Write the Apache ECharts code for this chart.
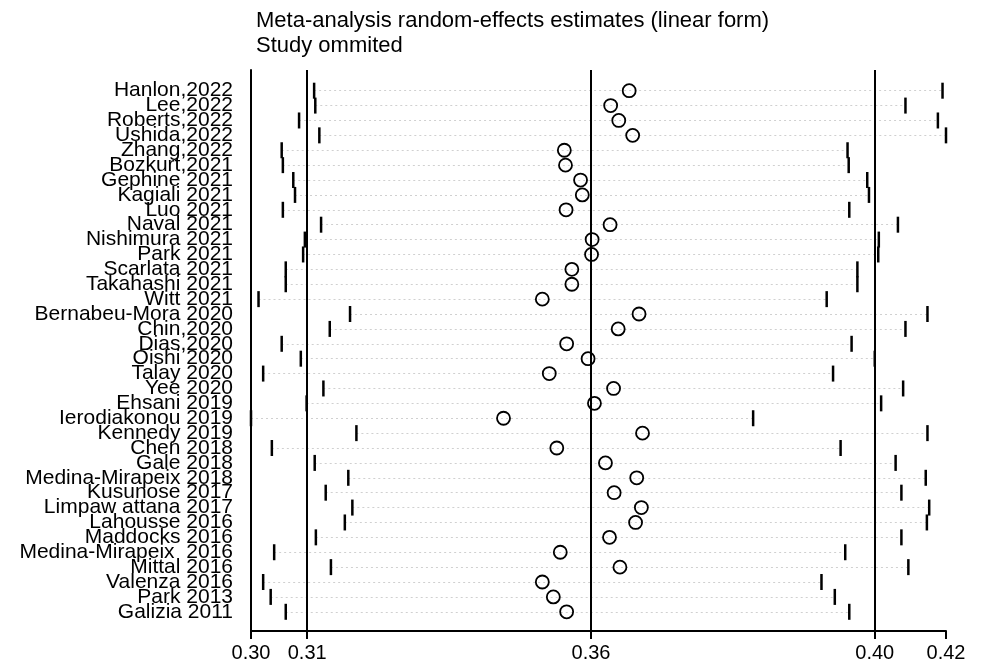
<!DOCTYPE html>
<html>
<head>
<meta charset="utf-8">
<script src="https://cdn.jsdelivr.net/npm/echarts@6/dist/echarts.min.js"></script>
<style>
html,body{margin:0;padding:0;background:#fff}
#main{width:988px;height:670px}
</style>
</head>
<body>
<div id="main"></div>
<script>
// 每行去掉一项研究后的合并估计
var studies = ['Hanlon,2022', 'Lee,2022', 'Roberts,2022', 'Ushida,2022', 'Zhang,2022', 'Bozkurt,2021',
    'Gephine 2021', 'Kagiali 2021', 'Luo 2021', 'Naval 2021', 'Nishimura 2021', 'Park 2021',
    'Scarlata 2021', 'Takahashi 2021', 'Witt 2021', 'Bernabeu-Mora 2020', 'Chin,2020', 'Dias,2020',
    'Oishi 2020', 'Talay 2020', 'Yee 2020', 'Ehsani 2019', 'Ierodiakonou 2019', 'Kennedy 2019',
    'Chen 2018', 'Gale 2018', 'Medina-Mirapeix 2018', 'Kusunose 2017', 'Limpaw attana 2017', 'Lahousse 2016',
    'Maddocks 2016', 'Medina-Mirapeix  2016', 'Mittal 2016', 'Valenza 2016', 'Park 2013', 'Galizia 2011']

var lowerCI = [0.3109, 0.3111, 0.3083, 0.3118, 0.3053, 0.3055,
    0.3073, 0.3076, 0.3055, 0.3121, 0.3093, 0.3090,
    0.3060, 0.3060, 0.3013, 0.3171, 0.3136, 0.3053,
    0.3086, 0.3021, 0.3125, 0.3096, 0.3000, 0.3182,
    0.3036, 0.3110, 0.3168, 0.3129, 0.3175, 0.3162,
    0.3112, 0.3040, 0.3138, 0.3021, 0.3034, 0.3060]

var estimate = [0.3653, 0.3621, 0.3635, 0.3659, 0.3541, 0.3543,
    0.3569, 0.3572, 0.3544, 0.3620, 0.3589, 0.3588,
    0.3554, 0.3554, 0.3503, 0.3670, 0.3634, 0.3545,
    0.3582, 0.3515, 0.3626, 0.3593, 0.3436, 0.3676,
    0.3528, 0.3612, 0.3666, 0.3627, 0.3674, 0.3664,
    0.3619, 0.3534, 0.3637, 0.3503, 0.3522, 0.3545]

var upperCI = [0.4194, 0.4130, 0.4186, 0.4200, 0.4030, 0.4032,
    0.4064, 0.4067, 0.4033, 0.4117, 0.4084, 0.4083,
    0.4047, 0.4047, 0.3994, 0.4168, 0.4130, 0.4037,
    0.4077, 0.4005, 0.4126, 0.4088, 0.3867, 0.4168,
    0.4018, 0.4113, 0.4165, 0.4123, 0.4171, 0.4167,
    0.4123, 0.4026, 0.4135, 0.3985, 0.4008, 0.4033]

// 总体估计及可信区间 (竖线)
var overall = [0.3097, 0.3587, 0.4077]

// x轴刻度
var tickValues = [0.30, 0.3097, 0.3587, 0.4077, 0.42]
var tickLabels = ['0.30', '0.31', '0.36', '0.40', '0.42']

var xMin = 0.30, xMax = 0.42
var yMin = -0.39, yMax = 37.29
var font = "'Liberation Sans', Arial, sans-serif"

var chart = echarts.init(document.getElementById('main'))
chart.setOption({
    animation: false,
    backgroundColor: '#fff',
    title: {
        text: 'Meta-analysis random-effects estimates (linear form)\nStudy ommited',
        left: 256,
        top: 8,
        padding: 0,
        textStyle: {fontFamily: font, fontSize: 22, fontWeight: 'normal', color: '#000', lineHeight: 25}
    },
    grid: {left: 251, right: 42, top: 70, bottom: 39},
    xAxis: {
        type: 'value',
        min: xMin,
        max: xMax,
        axisLine: {onZero: false, lineStyle: {color: '#000', width: 2}},
        axisTick: {customValues: tickValues, length: 8, lineStyle: {color: '#000', width: 2}},
        axisLabel: {
            customValues: tickValues,
            margin: 12,
            fontFamily: font,
            fontSize: 20,
            color: '#000',
            showMinLabel: true,
            showMaxLabel: true,
            formatter: function (v) {
                for (var k = 0; k < tickValues.length; k++) {
                    if (Math.abs(tickValues[k] - v) < 1e-6) return tickLabels[k]
                }
                return ''
            }
        },
        splitLine: {show: false}
    },
    yAxis: {
        type: 'value',
        inverse: true,
        min: yMin,
        max: yMax,
        axisLine: {show: true, onZero: false, lineStyle: {color: '#000', width: 2}},
        axisTick: {show: false},
        axisLabel: {show: false},
        splitLine: {show: false}
    },
    series: [
        {
            // 研究名称 (挂在左侧轴上)
            type: 'scatter',
            symbolSize: 0,
            clip: false,
            silent: true,
            itemStyle: {opacity: 1},
            label: {
                show: true,
                position: 'left',
                distance: 18,
                fontFamily: font,
                fontSize: 21,
                color: '#000',
                opacity: 1,
                formatter: function (p) { return studies[p.dataIndex] }
            },
            data: studies.map(function (s, i) { return [xMin, i + 1] })
        },
        {
            // 可信区间虚线
            type: 'lines',
            coordinateSystem: 'cartesian2d',
            silent: true,
            z: 1,
            lineStyle: {color: '#d0d0d0', width: 1, type: [2, 3], opacity: 1},
            data: studies.map(function (s, i) {
                return {coords: [[lowerCI[i], i + 1], [upperCI[i], i + 1]]}
            })
        },
        {
            // 总体估计竖线
            type: 'lines',
            coordinateSystem: 'cartesian2d',
            silent: true,
            z: 2,
            lineStyle: {color: '#000', width: 2, type: 'solid', opacity: 1},
            data: overall.map(function (v) {
                return {coords: [[v, yMin], [v, yMax]]}
            })
        },
        {
            type: 'scatter',
            symbol: 'rect',
            symbolSize: [2.5, 16],
            itemStyle: {color: '#000', opacity: 1},
            z: 3,
            data: lowerCI.map(function (v, i) { return [v, i + 1] })
        },
        {
            type: 'scatter',
            symbol: 'rect',
            symbolSize: [2.5, 16],
            itemStyle: {color: '#000', opacity: 1},
            z: 3,
            data: upperCI.map(function (v, i) { return [v, i + 1] })
        },
        {
            type: 'scatter',
            symbol: 'circle',
            symbolSize: 13,
            z: 4,
            itemStyle: {color: 'transparent', borderColor: '#000', borderWidth: 1.8, opacity: 1},
            data: estimate.map(function (v, i) { return [v, i + 1] })
        }
    ]
})
</script>
</body>
</html>
